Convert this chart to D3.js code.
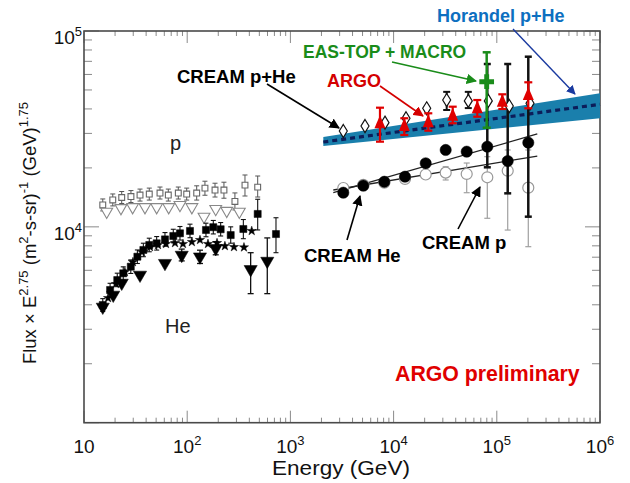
<!DOCTYPE html>
<html><head><meta charset="utf-8">
<script src="https://cdn.jsdelivr.net/npm/d3@7"></script>
<style>body{margin:0;background:#fff}svg{display:block}</style>
</head><body>
<svg id="chart" width="630" height="483"></svg>
<script>
// ---------- data: [Energy GeV, Flux, low, high] ----------
const pSquares = [
  [15.2,12940,12060,13880],[19.0,13720,12790,14720],[23.2,14120,13160,15150],[28.5,14280,13310,15320],
  [34.9,14530,13540,15590],[42.9,14700,13700,15770],[54.5,14880,13870,15970],[65.6,14530,13540,15590],
  [82.0,14880,13870,15970],[98.9,14700,13700,15770],[123.6,14880,13700,16200],[148.6,15770,14500,17100],
  [186,15420,14200,16700],[227,15420,14000,16900],[290,13480,12200,14900],[363,16330,14370,18400],
  [482,15950,14200,18180]
];
const pTriangles = [
  [16.6,11950],[22.8,12480],[29.6,12620],[39.0,12620],[50.6,12620],[66.2,12620],
  [85.1,12940],[111,12620],[145.5,11270],[189,12340],[241.5,12080],[320,11950]
];
const heSquares = [
  [15.2,3990,3700,4300],[17.9,4760,4400,5150],[21.0,5350,4950,5800],[24.0,5790,5350,6250],
  [28.4,6260,5780,6780],[32.9,7040,6500,7620],[37.6,7620,7040,8250],[42.9,8080,7460,8750],
  [50.6,8240,7610,8920],[60.9,8630,7970,9350],[73.3,8980,8290,9720],[85.1,9270,8560,10040],
  [106.4,9530,8800,10320],[152,9640,8900,10440],[179,9960,9200,10780],[211,9720,8980,10520],
  [264,9080,8250,10000],[350,9750,8700,10900],[482,11640,9640,13830],[725,9190,7380,11130]
];
const heTriangles = [
  [15.2,3900,null,null],[19.2,4490,null,null],[23.2,5170,null,null],[34.9,5680,null,null],
  [60.9,6520,null,null],[88.5,7180,6700,7700],[133,7040,6500,7600],[189,7770,7200,8400],
  [412,6070,4560,7380],[597,6690,4560,8780]
];
const heStars = [
  [17.1,4330],[20.4,5110],[24.9,5880],[29.8,6610],[36.5,7440],[43.6,7890],[52.1,8080],[62.3,8180],
  [76.2,8270],[91.0,8180],[111,8370],[133,8570],[159,8180],[194.5,8270],[232,7980],[284,7890],
  [355,7860],[422,9530]
];
const creamPHe = [
  [3255,30860,null,null],[5283,32730,null,null],[8256,34040,null,null],[13190,35850,null,null],
  [20930,40300,null,null],[32690,44420,39500,48900],[52940,43950,40400,48900],[82740,43950,null,null],
  [132200,41410,null,null],[209800,42750,null,null]
];
const argo = [
  [7380,33790,27220,40590],[12700,32730,29440,35850],[21690,34190,30970,38000],[37390,36930,33790,41070],
  [64700,40300,36500,44420],[113100,43550,39970,47510],[201900,47120,40300,54710]
];
const easTopMacro = [[79800,55100,32080,77850]];
const creamHe = [
  [3255,14940,null,null],[5086,16220,null,null],[8128,16990,null,null],[12900,18030,null,null],
  [20470,21110,null,null],[31970,24690,null,null],[51090,24200,null,null],[80900,25660,20140,67830],
  [127550,21680,14830,67830],[201900,26900,11270,73920]
];
const creamP = [
  [3255,15790,null,null],[5086,16370,null,null],[8128,16800,null,null],[12900,17560,null,null],
  [20470,18510,null,null],[31970,18910,17350,20280],[51090,18620,14940,21180],[80900,17910,11060,22820],
  [127550,19350,9630,24690],[201900,15850,7920,24690]
];
const fitHe = [[2604,14940],[246900,29800]];
const fitP = [[2604,15420],[246900,22990]];
const horandelE = [2084, 1000000];
const horandelMid = [27120, 42240];
const horandelLow = [25870, 35850];
const horandelHigh = [28770, 48070];
const xTicks = [10,100,1000,10000,100000,1000000];
const yTicks = [1000,10000,100000];

// ---------- setup ----------
const svg = d3.select("#chart");
const L=84, R=600, T=31, B=422.7;
const x = d3.scaleLog().domain([10,1e6]).range([L,R]);
const y = d3.scaleLog().domain([1e3,1e5]).range([B,T]);
const FONT = "'Liberation Sans', Arial, Helvetica, sans-serif";

// arrow markers
const defs = svg.append("defs");
function mk(id,color){
  defs.append("marker").attr("id",id).attr("viewBox","0 0 10 10").attr("refX",9).attr("refY",5)
    .attr("markerWidth",6.5).attr("markerHeight",6.5).attr("orient","auto-start-reverse")
    .append("path").attr("d","M0,0L10,5L0,10z").attr("fill",color);
}
mk("aBlack","#000"); mk("aRed","#d40000"); mk("aGreen","#1a8c1a"); mk("aBlue","#1a3aa0");

// frame + ticks
const g = svg.append("g");
const minorX = [], minorY = [];
for (let d=10; d<1e6; d*=10) for (let k=2;k<=9;k++) minorX.push(d*k);
for (let d=1000; d<1e5; d*=10) for (let k=2;k<=9;k++) minorY.push(d*k);
const tickCol="#8a8a8a";
g.selectAll(".mx").data(minorX).join("line").attr("x1",d=>x(d)).attr("x2",d=>x(d))
  .attr("y1",B).attr("y2",B-5).attr("stroke",tickCol);
g.selectAll(".mxt").data(minorX).join("line").attr("x1",d=>x(d)).attr("x2",d=>x(d))
  .attr("y1",T).attr("y2",T+5).attr("stroke",tickCol);
g.selectAll(".Mx").data(xTicks).join("line").attr("x1",d=>x(d)).attr("x2",d=>x(d))
  .attr("y1",B).attr("y2",B-12).attr("stroke",tickCol);
g.selectAll(".Mxt").data(xTicks).join("line").attr("x1",d=>x(d)).attr("x2",d=>x(d))
  .attr("y1",T).attr("y2",T+12).attr("stroke",tickCol);
g.selectAll(".my").data(minorY).join("line").attr("x1",L).attr("x2",L+8)
  .attr("y1",d=>y(d)).attr("y2",d=>y(d)).attr("stroke",tickCol);
g.selectAll(".myr").data(minorY).join("line").attr("x1",R).attr("x2",R-8)
  .attr("y1",d=>y(d)).attr("y2",d=>y(d)).attr("stroke",tickCol);
g.selectAll(".My").data(yTicks).join("line").attr("x1",L).attr("x2",L+15)
  .attr("y1",d=>y(d)).attr("y2",d=>y(d)).attr("stroke",tickCol);
g.selectAll(".Myr").data(yTicks).join("line").attr("x1",R).attr("x2",R-15)
  .attr("y1",d=>y(d)).attr("y2",d=>y(d)).attr("stroke",tickCol);
g.append("rect").attr("x",L).attr("y",T).attr("width",R-L).attr("height",B-T)
  .attr("fill","none").attr("stroke","#4a4a4a").attr("stroke-width",1.6);

// tick labels
const xl = g.selectAll(".xl").data(xTicks).join("text").attr("font-family",FONT).attr("font-size",19)
  .attr("x",d=>x(d)).attr("y",453).attr("text-anchor","middle").attr("fill","#111");
xl.each(function(d){
  const t=d3.select(this), e=Math.round(Math.log10(d));
  if(e===1){ t.text("10"); }
  else { t.append("tspan").text("10"); t.append("tspan").attr("dy",-8).attr("font-size",13).text(e); }
});
const yl = g.selectAll(".yl").data(yTicks.slice(1)).join("text").attr("font-family",FONT).attr("font-size",19)
  .attr("x",L-2).attr("y",d=>y(d)+13).attr("text-anchor","end").attr("fill","#111");
yl.each(function(d){
  const t=d3.select(this), e=Math.round(Math.log10(d));
  t.append("tspan").text("10"); t.append("tspan").attr("dy",-8).attr("font-size",13).text(e);
});

// axis titles
g.append("text").attr("x",341).attr("y",475).attr("text-anchor","middle").attr("font-family",FONT)
  .attr("font-size",19.5).attr("fill","#111").attr("textLength",138).attr("lengthAdjust","spacingAndGlyphs")
  .text("Energy (GeV)");
const yt = g.append("text").attr("transform","translate(36,233) rotate(-90)").attr("text-anchor","middle")
  .attr("font-family",FONT).attr("font-size",18.5).attr("fill","#111");
[["Flux × E",0],["2.75",1],[" (m",0],["2",1],["-s-sr)",0],["-1",1],[" (GeV)",0],["1.75",1]].forEach(([s,sup],i,arr)=>{
  const ts = yt.append("tspan").text(s);
  if(sup){ ts.attr("font-size",13).attr("dy",-8); }
  else if(i>0 && arr[i-1][1]){ ts.attr("dy",8); }
});

// ---------- band ----------
const bandData = horandelE.map((e,i)=>({e,lo:horandelLow[i],hi:horandelHigh[i],mid:horandelMid[i]}));
svg.append("path").datum(bandData).attr("fill","#1a7fac")
  .attr("d",d3.area().x(d=>x(d.e)).y0(d=>y(d.lo)).y1(d=>y(d.hi)));
svg.append("path").datum(bandData).attr("fill","none").attr("stroke","#0c1d5a").attr("stroke-width",3.2)
  .attr("stroke-dasharray","5,4").attr("d",d3.line().x(d=>x(d.e)).y(d=>y(d.mid)));

// fit lines
const line = d3.line().x(d=>x(d[0])).y(d=>y(d[1]));
svg.append("path").datum(fitHe).attr("d",line).attr("stroke","#222").attr("stroke-width",1.3).attr("fill","none");
svg.append("path").datum(fitP).attr("d",line).attr("stroke","#222").attr("stroke-width",1.3).attr("fill","none");

// ---------- helpers ----------
function errBars(data,color,width,cap){
  const gg = svg.append("g").attr("stroke",color).attr("stroke-width",width);
  const ed = data.filter(d=>d[2]!=null);
  gg.selectAll("line.v").data(ed).join("line").attr("x1",d=>x(d[0])).attr("x2",d=>x(d[0]))
    .attr("y1",d=>y(d[2])).attr("y2",d=>y(d[3]));
  gg.selectAll("line.c1").data(ed).join("line").attr("x1",d=>x(d[0])-cap).attr("x2",d=>x(d[0])+cap)
    .attr("y1",d=>y(d[2])).attr("y2",d=>y(d[2]));
  gg.selectAll("line.c2").data(ed).join("line").attr("x1",d=>x(d[0])-cap).attr("x2",d=>x(d[0])+cap)
    .attr("y1",d=>y(d[3])).attr("y2",d=>y(d[3]));
}
function symbols(data,type,size,fill,stroke,sw,rot){
  svg.append("g").selectAll("path").data(data).join("path")
    .attr("transform",d=>`translate(${x(d[0])},${y(d[1])})${rot?` rotate(${rot})`:""}`)
    .attr("d",d3.symbol().type(type).size(size)).attr("fill",fill).attr("stroke",stroke).attr("stroke-width",sw);
}

// ---------- left cluster ----------
errBars(pSquares,"#555",1,2.5);
symbols(pSquares,d3.symbolSquare,34,"#fff","#666",1.1);
symbols(pTriangles,d3.symbolTriangle,60,"#fff","#888",1.1,180);
errBars(heSquares,"#111",1.1,2.5);
errBars(heTriangles,"#111",1.3,3);
symbols(heTriangles,d3.symbolTriangle,75,"#000","#000",0.5,180);
symbols(heStars,d3.symbolStar,26,"#000","#000",0.5);
symbols(heSquares,d3.symbolSquare,50,"#000","#000",0.5);

// ---------- right cluster ----------
errBars(creamP,"#a0a0a0",1.2,3);
symbols(creamP,d3.symbolCircle,95,"#fff","#999",1.2);
errBars(creamHe,"#111",2.5,3.5);
symbols(creamHe,d3.symbolCircle,100,"#000","#000",0.5);
errBars(creamPHe,"#111",2,3.5);
svg.append("g").selectAll("path").data(creamPHe).join("path")
  .attr("transform",d=>`translate(${x(d[0])},${y(d[1])})`)
  .attr("d","M0,-6.5L4,0L0,6.5L-4,0Z").attr("fill","#fff").attr("stroke","#111").attr("stroke-width",1.2);
errBars(easTopMacro,"#1a8c1a",2.5,4);
svg.append("g").selectAll("path").data(easTopMacro).join("path")
  .attr("transform",d=>`translate(${x(d[0])},${y(d[1])})`)
  .attr("d",d3.symbol().type(d3.symbolCross).size(120)).attr("fill","#1a8c1a");
errBars(argo,"#e00000",2.2,4);
svg.append("g").selectAll("path").data(argo).join("path")
  .attr("transform",d=>`translate(${x(d[0])},${y(d[1])})`)
  .attr("d","M0,-8L5.5,5L-5.5,5Z").attr("fill","#e00000");

// ---------- annotations ----------
function label(txt,xx,yy,size,color,weight){
  return svg.append("text").attr("x",xx).attr("y",yy).attr("font-family",FONT).attr("font-size",size)
    .attr("font-weight",weight||"bold").attr("fill",color).text(txt);
}
function arrow(x1,y1,x2,y2,color,id,w){
  svg.append("line").attr("x1",x1).attr("y1",y1).attr("x2",x2).attr("y2",y2)
    .attr("stroke",color).attr("stroke-width",w||1.6).attr("marker-end",`url(#${id})`);
}
label("Horandel p+He",437,22,18,"#0d6fc0");
arrow(513,29,575,94,"#1a3aa0","aBlue",1.4);
label("EAS-TOP + MACRO",303,58,17.5,"#1a8c1a");
arrow(392,62,476,81,"#1a8c1a","aGreen",1.6);
label("ARGO",327,87,18,"#d40000");
arrow(380,86,423,116,"#d40000","aRed",1.6);
label("CREAM p+He",177,83,18.5,"#000");
arrow(267,84,339,128,"#000","aBlack",1.6);
label("CREAM He",304,262,18.5,"#000");
arrow(347,240,360,196,"#000","aBlack",1.6);
label("CREAM p",422,249,18.5,"#000");
arrow(458,229,480,187,"#000","aBlack",1.6);
label("p",170,150,20,"#222","normal");
label("He",165,333,20,"#222","normal");
label("ARGO preliminary",395,381,21.3,"#e00000");
</script>
</body></html>
